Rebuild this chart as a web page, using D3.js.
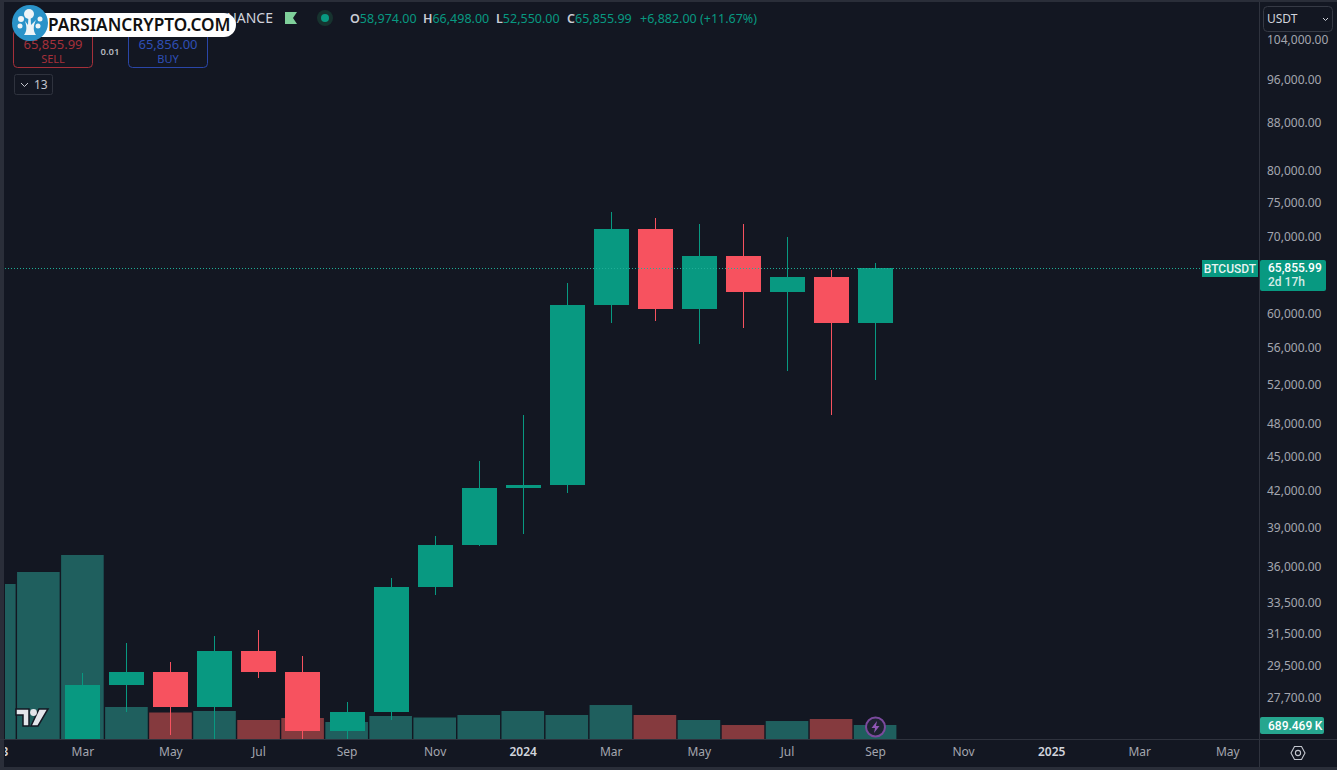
<!DOCTYPE html>
<meta charset="utf-8">
<style>
 html, body { margin: 0; padding: 0; background: #131722; overflow: hidden; }
 svg { display: block; }
 text { font-family: 'Noto Sans', 'Open Sans', sans-serif; }
 .axis path, .axis line { display: none; }
 .price-axis text { font-size: 12px; fill: #a3a6af; }
 .time-axis text { font-size: 12px; fill: #a3a6af; }
 .time-axis text.year { fill: #d1d4dc; font-weight: 600; }
 .ohlc { font-size: 12.5px; fill: #089981; }
 .ohlc .key { fill: #c9ccd4; font-weight: 600; }
 .tag { font-family: Roboto, sans-serif; font-size: 12px; font-weight: 500; }
</style>
<body>
<script src="https://d3js.org/d3.v7.min.js"></script>
<script>

var width = 1337,
    height = 770;

// month labels along the time axis, the first one is Jan 2023
var months = ["2023","Feb","Mar","Apr","May","Jun","Jul","Aug","Sep","Oct","Nov","Dec",
              "2024","Feb","Mar","Apr","May","Jun","Jul","Aug","Sep","Oct","Nov","Dec",
              "2025","Feb","Mar","Apr","May"];

// candles start at Mar 2023, Jan and Feb sit below the visible range
var firstCandle = 2;
var opens  = [23141, 28465, 29233, 27210, 30472, 29232, 25940, 26962, 34639, 37723, 42283, 42580, 61130, 71280, 60672, 67540, 62772, 64628, 58974];
var highs  = [29184, 31000, 29820, 31431, 31804, 30190, 27483, 35280, 38450, 44700, 48969, 63913, 73777, 72797, 71979, 71980, 70079, 65659, 66498];
var lows   = [19549, 26942, 25751, 24800, 28861, 25166, 24901, 26538, 34097, 37615, 38555, 41884, 59005, 59191, 56552, 58402, 53485, 49000, 52550];
var closes = [28465, 29233, 27210, 30472, 29232, 25940, 26962, 34639, 37723, 42283, 42580, 61130, 71280, 60672, 67540, 62772, 64628, 58974, 65856];

// volume in thousands, starts at Jan 2023
var volumes = [7634, 8225, 9062, 1576, 1305, 1379, 936, 1034, 837, 1133, 1059, 1182, 1379, 1182, 1674, 1182, 936, 689, 886, 985, 689.469];
var volumeUp = [1, 1, 1, 1, 0, 1, 0, 0, 1, 1, 1, 1, 1, 1, 1, 0, 1, 0, 1, 0, 1];

var priceTicks = [104000, 96000, 88000, 80000, 75000, 70000, 60000, 56000, 52000, 48000, 45000, 42000, 39000, 36000, 33500, 31500, 29500, 27700];

var lastPrice = 65855.99;

var upColor = "#089981",
    downColor = "#f7525f",
    volUpColor = "#1f5f5e",
    volDownColor = "#853a3e",
    lineColor = "#2f333e";

var paneLeft = 5,
    paneRight = 1259,
    paneBottom = 739;

var x = d3.scaleLinear().domain([2, 20]).range([82.3, 875]);
var y = d3.scaleLog().domain([104000, 27700]).range([41, 698.5]);
var yVol = d3.scaleLinear().domain([0, 9062]).range([paneBottom, 555]);

var svg = d3.select("body").append("svg")
    .attr("width", width)
    .attr("height", height);

svg.append("rect").attr("width", width).attr("height", height).attr("fill", "#131722");

var defs = svg.append("defs");
defs.append("clipPath").attr("id", "pane")
  .append("rect").attr("x", paneLeft).attr("y", 0)
    .attr("width", paneRight - paneLeft).attr("height", paneBottom);
defs.append("clipPath").attr("id", "timeclip")
  .append("rect").attr("x", paneLeft).attr("y", paneBottom)
    .attr("width", paneRight - paneLeft).attr("height", 30);

var pane = svg.append("g").attr("clip-path", "url(#pane)");

// volume
pane.append("g").selectAll("rect").data(volumes)
  .enter().append("rect")
    .attr("x", (d, i) => x(i) - 21.2)
    .attr("width", 42.6)
    .attr("y", d => yVol(d))
    .attr("height", d => paneBottom - yVol(d))
    .attr("fill", (d, i) => volumeUp[i] ? volUpColor : volDownColor);

// candles
var candle = pane.append("g").selectAll("g").data(opens)
  .enter().append("g")
    .attr("fill", (d, i) => closes[i] >= d ? upColor : downColor);

candle.append("rect")
    .attr("x", (d, i) => Math.round(x(i + firstCandle)))
    .attr("width", 1)
    .attr("y", (d, i) => Math.round(y(highs[i])))
    .attr("height", (d, i) => Math.round(y(lows[i])) - Math.round(y(highs[i])));

candle.append("rect")
    .attr("x", (d, i) => Math.round(x(i + firstCandle)) - 17)
    .attr("width", 35)
    .attr("y", (d, i) => Math.round(y(Math.max(d, closes[i]))))
    .attr("height", (d, i) => Math.round(y(Math.min(d, closes[i]))) - Math.round(y(Math.max(d, closes[i]))));

// last price line
pane.append("line")
    .attr("x1", paneLeft).attr("x2", 1203)
    .attr("y1", Math.round(y(lastPrice)) + 0.5).attr("y2", Math.round(y(lastPrice)) + 0.5)
    .attr("stroke", "#1fae97")
    .attr("stroke-dasharray", "1,2");

// watermark logo
var tv = svg.append("g").attr("transform", "translate(16,708)");
tv.append("path")
    .attr("d", "M0,1H13V18H7V7H0Z M23,1H32L22,18H15Z")
    .attr("fill", "#e3e5ea").attr("stroke", "#131722").attr("stroke-width", 1.5);
tv.append("circle").attr("cx", 17.5).attr("cy", 4.5).attr("r", 3.4).attr("fill", "#e3e5ea");

// lightning marker
var bolt = svg.append("g").attr("transform", "translate(875.5,727)");
bolt.append("circle").attr("r", 9.5).attr("fill", "#1d2230").attr("stroke", "#7b4a9e").attr("stroke-width", 2);
bolt.append("path").attr("d", "M1.5,-6L-4,1H-0.5L-1.5,6L4,-1H0.5Z").attr("fill", "#8f56b5");

// frame
svg.append("rect").attr("width", 4).attr("height", height).attr("fill", "#2a2e39");
svg.append("rect").attr("width", width).attr("height", 2).attr("fill", "#2a2e39");
svg.append("rect").attr("y", 767).attr("width", width).attr("height", 3).attr("fill", "#2a2e39");
svg.append("rect").attr("x", 0).attr("y", paneBottom).attr("width", width).attr("height", 1).attr("fill", lineColor);
svg.append("rect").attr("x", paneRight).attr("y", 2).attr("width", 1).attr("height", 765).attr("fill", lineColor);

// axes, the price labels sit a little above their level
var priceAxis = d3.axisRight(y)
    .tickValues(priceTicks)
    .tickFormat(d3.format(",.2f"))
    .tickSize(0)
    .tickPadding(8);

svg.append("g").attr("class", "axis price-axis")
    .attr("transform", "translate(" + paneRight + ",-1.5)")
    .call(priceAxis)
    .selectAll("text").attr("dy", "0.35em");

var timeAxis = d3.axisBottom(x)
    .tickValues(d3.range(0, months.length, 2))
    .tickFormat(i => months[i])
    .tickSize(0)
    .tickPadding(8);

svg.append("g").attr("clip-path", "url(#timeclip)")
  .append("g").attr("class", "axis time-axis")
    .attr("transform", "translate(0," + paneBottom + ")")
    .call(timeAxis)
    .selectAll("text")
    .classed("year", (i) => /^\d/.test(months[i]));

// price labels
svg.append("rect").attr("x", 1202).attr("y", 260).attr("width", 56).attr("height", 17).attr("fill", upColor);
svg.append("text").attr("class", "tag").attr("x", 1230).attr("y", 273).attr("text-anchor", "middle")
    .attr("fill", "#e8f3f1").text("BTCUSDT");
svg.append("rect").attr("x", 1260).attr("y", 260).attr("width", 66).attr("height", 31).attr("rx", 2).attr("fill", upColor);
svg.append("text").attr("class", "tag").attr("x", 1268).attr("y", 272).attr("fill", "#fff").text(d3.format(",.2f")(lastPrice));
svg.append("text").attr("class", "tag").attr("x", 1268).attr("y", 286).attr("fill", "#d5ebe6").text("2d 17h");
svg.append("rect").attr("x", 1260).attr("y", 717).attr("width", 64).attr("height", 17).attr("rx", 2).attr("fill", "#26a68f");
svg.append("text").attr("class", "tag").attr("x", 1268).attr("y", 730).attr("fill", "#fff").text("689.469\u2009K");

// settings icon
var gear = svg.append("g").attr("transform", "translate(1298,753)");
gear.append("path").attr("d", "M-7,0L-3.5,-6.5H3.5L7,0L3.5,6.5H-3.5Z").attr("fill", "none").attr("stroke", "#c3c6ce").attr("stroke-width", 1.1);
gear.append("circle").attr("r", 2.6).attr("fill", "none").attr("stroke", "#c3c6ce").attr("stroke-width", 1.1);

// currency dropdown
svg.append("rect").attr("x", 1263.5).attr("y", 6.5).attr("width", 69).attr("height", 25).attr("rx", 4)
    .attr("fill", "#131722").attr("stroke", "#363a45");
svg.append("text").attr("x", 1267).attr("y", 23).style("font-size", "12px").attr("fill", "#d1d4dc").text("USDT");
svg.append("path").attr("d", "M1323,18L1325.5,20.5L1328,18").attr("fill", "none").attr("stroke", "#d1d4dc");

// header
svg.append("text").attr("x", 273).attr("y", 23).attr("text-anchor", "end").style("font-size", "14px").attr("fill", "#d1d4dc").text("NANCE");
svg.append("path").attr("d", "M285,12H297L293,18L297,24H285Z").attr("fill", "#7fd09b");
svg.append("circle").attr("cx", 325).attr("cy", 18).attr("r", 8).attr("fill", "#17332f");
svg.append("circle").attr("cx", 325).attr("cy", 18).attr("r", 4).attr("fill", "#089981");

var ohlcKeys = ["O", "H", "L", "C"];
var ohlcValues = ["58,974.00", "66,498.00", "52,550.00", "65,855.99"];
var ohlcX = [350, 423, 496, 567];
var ohlc = svg.append("g").attr("class", "ohlc");
ohlcKeys.forEach((k, i) => {
  var t = ohlc.append("text").attr("x", ohlcX[i]).attr("y", 23);
  t.append("tspan").attr("class", "key").text(k);
  t.append("tspan").text(ohlcValues[i]);
});
ohlc.append("text").attr("x", 640).attr("y", 23).text("+6,882.00 (+11.67%)");

// sell and buy
svg.append("rect").attr("x", 13.5).attr("y", 30).attr("width", 79).attr("height", 37.5).attr("rx", 4).attr("fill", "none").attr("stroke", "#a5303a");
svg.append("text").attr("x", 53).attr("y", 49).attr("text-anchor", "middle").style("font-size", "13px").attr("fill", "#a5303a").text("65,855.99");
svg.append("text").attr("x", 53).attr("y", 63).attr("text-anchor", "middle").style("font-size", "11px").attr("fill", "#a5303a").text("SELL");
svg.append("text").attr("x", 110).attr("y", 55).attr("text-anchor", "middle").style("font-size", "9.5px").style("font-weight", "600").attr("fill", "#b2b5be").text("0.01");
svg.append("rect").attr("x", 128.5).attr("y", 30).attr("width", 79).attr("height", 37.5).attr("rx", 4).attr("fill", "none").attr("stroke", "#2a46a8");
svg.append("text").attr("x", 168).attr("y", 49).attr("text-anchor", "middle").style("font-size", "13px").attr("fill", "#2f4fb5").text("65,856.00");
svg.append("text").attr("x", 168).attr("y", 63).attr("text-anchor", "middle").style("font-size", "11px").attr("fill", "#2f4fb5").text("BUY");

// indicators toggle
svg.append("rect").attr("x", 14.5).attr("y", 74.5).attr("width", 38).attr("height", 20).attr("rx", 2).attr("fill", "none").attr("stroke", "#2f333e");
svg.append("path").attr("d", "M21,83L24.5,86.5L28,83").attr("fill", "none").attr("stroke", "#c3c6ce");
svg.append("text").attr("x", 34).attr("y", 89).style("font-size", "12px").attr("fill", "#c3c6ce").text("13");

// site logo on top
svg.append("rect").attr("x", 30).attr("y", 13).attr("width", 206).attr("height", 24).attr("rx", 12).attr("fill", "#fff");
svg.append("text").attr("x", 48).attr("y", 31).style("font-size", "17.2px").style("font-weight", "600").attr("fill", "#111").text("PARSIANCRYPTO.COM");
svg.append("circle").attr("cx", 30).attr("cy", 23).attr("r", 18).attr("fill", "#2a93c9");
var tree = svg.append("g").attr("fill", "#eef4f7");
tree.append("path").attr("d", "M24,35C27,31 27,27 25,21L28,25L28.5,15H30.5L31,25L36,20C33,26 33,31 36,35Z");
tree.append("circle").attr("cx", 29).attr("cy", 14).attr("r", 5);
tree.append("circle").attr("cx", 40).attr("cy", 19).attr("r", 2.5);
tree.append("circle").attr("cx", 21).attr("cy", 19).attr("r", 3);
tree.append("circle").attr("cx", 20).attr("cy", 26).attr("r", 2.5);
tree.append("circle").attr("cx", 38).attr("cy", 26).attr("r", 2.5);

</script>
</body>
